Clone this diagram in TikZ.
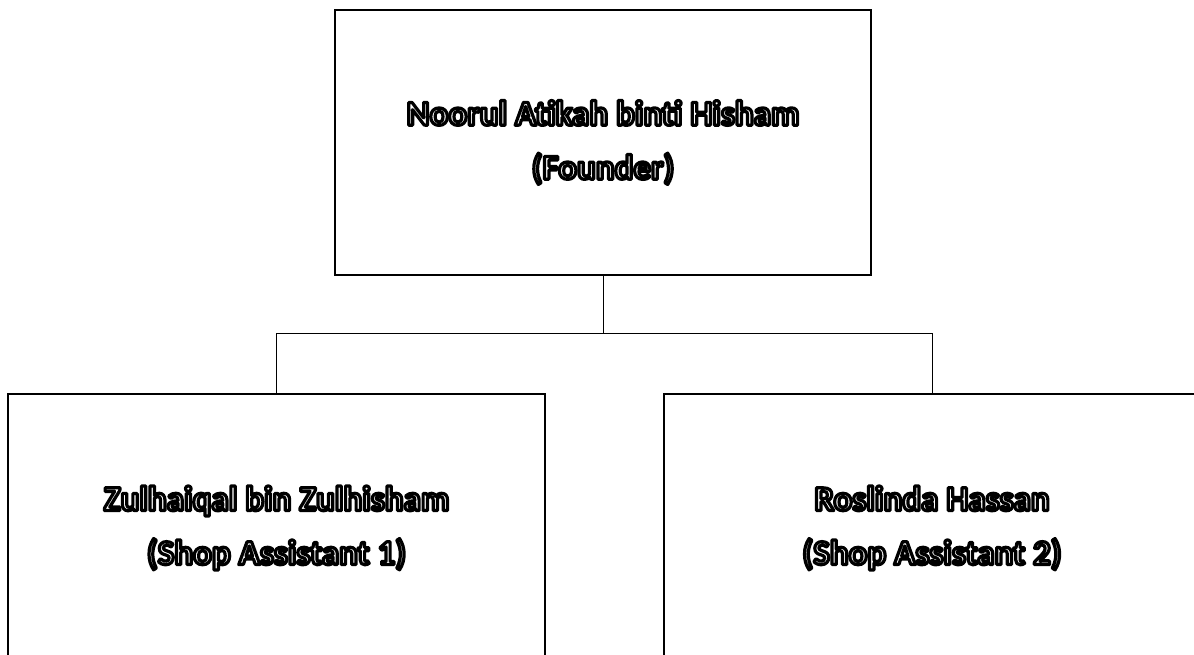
\documentclass[tikz,border=0pt]{standalone}
\usepackage{fontspec}
\setmainfont{Carlito}
\newcommand{\hollow}[1]{\special{pdf:literal direct 2 Tr 3.2 w 1 j 0 G 1 g}#1\special{pdf:literal direct 0 Tr 0 g 0 G}}
\tikzset{
  orgbox/.style={draw=black, line width=2.2pt, inner sep=0pt, align=center,
    minimum width=536pt, minimum height=266pt,
    font=\bfseries\fontsize{35}{54}\selectfont},
  conn/.style={draw=black, line width=1pt}
}
\begin{document}
\begin{tikzpicture}[x=1pt,y=-1pt]
\useasboundingbox (0,0) rectangle (1194,655);
\clip (0,0) rectangle (1194,655);
\fill[white] (0,0) rectangle (1194,655);
\node[orgbox, minimum height=265pt] (top) at (603,142.5)
  {\hollow{Noorul Atikah binti Hisham}\\\hollow{(Founder)}};
\node[orgbox, minimum width=537pt, minimum height=268pt] (left) at (276.5,528)
  {\hollow{Zulhaiqal bin Zulhisham}\\\hollow{(Shop Assistant 1)}};
\node[orgbox, minimum height=268pt] (right) at (932,528)
  {\hollow{Roslinda Hassan}\\\hollow{(Shop Assistant 2)}};
\coordinate (j) at (603,333);
\draw[conn] (top.south) -- (j);
\draw[conn] (j) -| (left.north);
\draw[conn] (j) -| (right.north);
\end{tikzpicture}
\end{document}
